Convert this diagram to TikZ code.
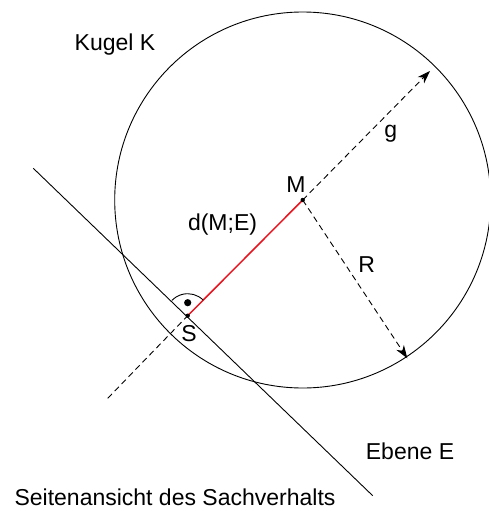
\documentclass[tikz,border=0pt]{standalone}
\usepackage{fontspec}
\setmainfont{Liberation Sans}
\usetikzlibrary{arrows.meta}
\definecolor{redline}{RGB}{230,20,30}
\begin{document}
\begin{tikzpicture}[x=1pt,y=-1pt,
  thinline/.style={line width=0.9pt,black},
  dashline/.style={line width=0.9pt,dash pattern=on 6pt off 4pt},
  tip/.style={-{Stealth[length=13pt,width=9pt,inset=4pt]}},
  lbl/.style={font=\fontsize{23}{27}\selectfont,inner sep=0pt}]
\useasboundingbox (0,0) rectangle (488,511);
\coordinate (M) at (302.7,200);
\coordinate (S) at (187.7,315.7);
\coordinate (G1) at (107.7,398.3);
\coordinate (G2) at (430,71);
\coordinate (Rend) at (407.3,358.3);
\coordinate (E1) at (33.3,168.3);
\coordinate (E2) at (372.7,495.7);
% sphere
\draw[thinline] (M) circle (188);
% plane
\draw[thinline] (E1) -- (E2);
% line g
\draw[dashline] (G1) -- (S);
\draw[dashline,tip] (M) -- (G2);
% radius
\draw[dashline,tip] (M) -- (Rend);
% distance
\draw[redline,line width=1.5pt] (S) -- (M);
% right angle
\draw[thinline] ([shift={(-45:22)}]S) arc[start angle=-45,end angle=-136,radius=22];
\fill ([yshift=13pt]S) circle (3.6);
\fill (M) circle (2.2);
\fill (S) circle (2.2);
% labels
\node[lbl] (kugel) at (115,45) {Kugel K};
\node[lbl] (glbl) at (390.7,134) {g};
\node[lbl] (Mlbl) at (296,184.3) {M};
\node[lbl] (dlbl) at (222.5,225) {d(M;E)};
\node[lbl] (Rlbl) at (366.7,265) {R};
\node[lbl] (Slbl) at (189,333.3) {S};
\node[lbl] (ebene) at (410,451.7) {Ebene E};
\node[lbl] (caption) at (175,497.5) {Seitenansicht des Sachverhalts};
\end{tikzpicture}
\end{document}
